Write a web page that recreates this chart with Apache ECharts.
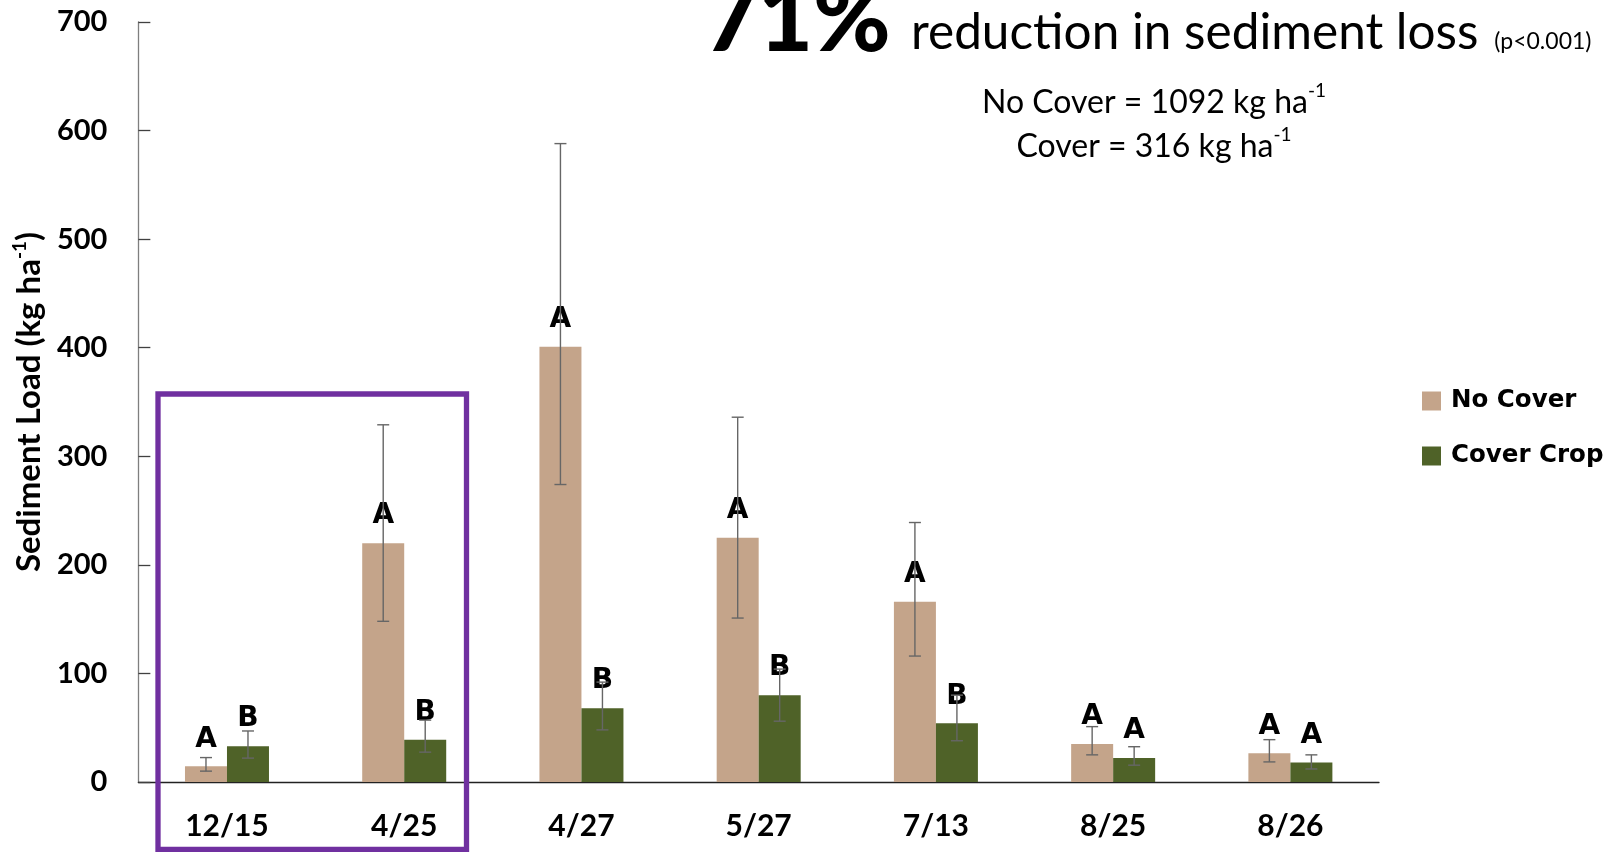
<!DOCTYPE html>
<html>
<head>
<meta charset="utf-8">
<script src="https://cdn.jsdelivr.net/npm/echarts@6/dist/echarts.min.js"></script>
<style>
  html, body { margin: 0; padding: 0; background: #ffffff; }
  #chart { width: 1620px; height: 852px; }
</style>
</head>
<body>
<div id="chart"></div>
<script>
// Storm event dates
const categories = ['12/15', '4/25', '4/27', '5/27', '7/13', '8/25', '8/26'];

// Sediment load per event (kg ha-1) and error bar bounds
const noCover     = [14.5, 220, 401, 225, 166, 35, 26.5];
const noCoverLow  = [10, 148, 274, 151, 116, 25, 18.5];
const noCoverHigh = [22.5, 329, 588, 336, 239, 51, 39];

const coverCrop     = [33, 39, 68, 80, 54, 22, 18];
const coverCropLow  = [22, 27.5, 48, 56, 38, 15.5, 12];
const coverCropHigh = [47, 57, 92, 104, 80, 32.5, 25];

// Mean separation letters
const noCoverLetters   = ['A', 'A', 'A', 'A', 'A', 'A', 'A'];
const coverCropLetters = ['B', 'B', 'B', 'B', 'B', 'A', 'A'];

// Y axis ticks
const yMin = 0, yMax = 700, yStep = 100;

const TAN = '#C4A48A';
const GREEN = '#4F6228';
const BAR_W = 42;

function errorSeries(name, low, high, offset) {
  return {
    type: 'custom',
    name: name + ' error',
    z: 3,
    silent: true,
    data: categories.map((c, i) => [i, low[i], high[i]]),
    encode: { x: 0, y: [1, 2] },
    renderItem: function (params, api) {
      const lo = api.coord([api.value(0), api.value(1)]);
      const hi = api.coord([api.value(0), api.value(2)]);
      const x = lo[0] + offset;
      const cap = 6;
      const style = { stroke: '#666666', lineWidth: 1.4 };
      return {
        type: 'group',
        children: [
          { type: 'line', shape: { x1: x, y1: lo[1], x2: x, y2: hi[1] }, style: style },
          { type: 'line', shape: { x1: x - cap, y1: lo[1], x2: x + cap, y2: lo[1] }, style: style },
          { type: 'line', shape: { x1: x - cap, y1: hi[1], x2: x + cap, y2: hi[1] }, style: style }
        ]
      };
    }
  };
}

function letterLabel(letters) {
  return {
    show: true,
    position: 'top',
    distance: 13,
    fontFamily: 'DejaVu Sans',
    fontWeight: 'bold',
    fontSize: 28,
    color: '#000000',
    formatter: p => letters[p.dataIndex]
  };
}

const chart = echarts.init(document.getElementById('chart'), null, { renderer: 'canvas' });

chart.setOption({
  animation: false,
  backgroundColor: '#ffffff',
  grid: { left: 134, right: 241, top: 22, bottom: 70, containLabel: false },
  legend: {
    orient: 'vertical',
    left: 1417,
    top: 381,
    itemWidth: 19,
    itemHeight: 19,
    itemGap: 25,
    icon: 'rect',
    textStyle: {
      fontFamily: 'DejaVu Sans',
      fontWeight: 'bold',
      fontSize: 24.5,
      lineHeight: 30,
      color: '#000000',
      padding: [0, 0, 0, 5]
    },
    data: ['No Cover', 'Cover Crop']
  },
  xAxis: {
    type: 'category',
    data: categories,
    axisLine: { lineStyle: { color: '#222222', width: 1.3 } },
    axisTick: { show: false },
    axisLabel: {
      margin: 29,
      fontFamily: 'Lato',
      fontWeight: 'bold',
      fontSize: 30,
      lineHeight: 30,
      color: '#000000'
    },
    splitLine: { show: false }
  },
  yAxis: {
    type: 'value',
    min: yMin,
    max: yMax,
    interval: yStep,
    name: '{n|Sediment Load (kg ha}{s|-1}{n|)}',
    nameLocation: 'middle',
    nameRotate: 90,
    nameGap: 88,
    nameTextStyle: {
      rich: {
        n: { fontFamily: 'Lato', fontWeight: 'bold', fontSize: 33, lineHeight: 38, color: '#000000', verticalAlign: 'bottom' },
        s: { fontFamily: 'Lato', fontWeight: 'bold', fontSize: 19, lineHeight: 38, color: '#000000', verticalAlign: 'top', padding: [2, 0, 0, 0] }
      }
    },
    axisLine: { show: true, lineStyle: { color: '#7f7f7f', width: 1.3 } },
    axisTick: { show: true, inside: true, length: 12, lineStyle: { color: '#404040', width: 1.3 } },
    axisLabel: {
      margin: 31,
      fontFamily: 'Lato',
      fontWeight: 'bold',
      fontSize: 29,
      color: '#000000'
    },
    splitLine: { show: false }
  },
  series: [
    {
      name: 'No Cover',
      type: 'bar',
      data: noCover,
      barWidth: BAR_W,
      barGap: '0%',
      itemStyle: { color: TAN },
      label: letterLabel(noCoverLetters),
      z: 2
    },
    {
      name: 'Cover Crop',
      type: 'bar',
      data: coverCrop,
      barWidth: BAR_W,
      barGap: '0%',
      itemStyle: { color: GREEN },
      label: letterLabel(coverCropLetters),
      z: 2
    },
    errorSeries('No Cover', noCoverLow, noCoverHigh, -BAR_W / 2),
    errorSeries('Cover Crop', coverCropLow, coverCropHigh, BAR_W / 2)
  ],
  graphic: [
    {
      type: 'text',
      left: 704,
      top: -26,
      style: {
        text: '71%',
        fontFamily: 'Lato',
        fontWeight: 900,
        fontSize: 94,
        fill: '#000000'
      }
    },
    {
      type: 'text',
      left: 911,
      top: 8,
      style: {
        text: '{a|reduction in sediment loss}{b| (p<0.001)}',
        rich: {
          a: { fontFamily: 'Lato', fontSize: 49.5, lineHeight: 54, fill: '#000000', verticalAlign: 'bottom' },
          b: { fontFamily: 'Lato', fontSize: 23, lineHeight: 54, fill: '#000000', verticalAlign: 'bottom', padding: [0, 0, 5, 10] }
        }
      }
    },
    {
      type: 'text',
      x: 1154,
      y: 100,
      style: {
        text: '{a|No Cover = 1092 kg ha}{s|-1}',
        align: 'center',
        verticalAlign: 'middle',
        rich: {
          a: { fontFamily: 'Lato', fontSize: 32, lineHeight: 38, fill: '#000000', verticalAlign: 'bottom' },
          s: { fontFamily: 'Lato', fontSize: 19, lineHeight: 38, fill: '#000000', verticalAlign: 'top' }
        }
      }
    },
    {
      type: 'text',
      x: 1154,
      y: 144,
      style: {
        text: '{a|Cover = 316 kg ha}{s|-1}',
        align: 'center',
        verticalAlign: 'middle',
        rich: {
          a: { fontFamily: 'Lato', fontSize: 32, lineHeight: 38, fill: '#000000', verticalAlign: 'bottom' },
          s: { fontFamily: 'Lato', fontSize: 19, lineHeight: 38, fill: '#000000', verticalAlign: 'top' }
        }
      }
    },
    {
      // highlight frame around the winter/early spring events
      type: 'rect',
      z: 10,
      shape: { x: 158, y: 394, width: 308.5, height: 455.5 },
      style: { fill: 'none', stroke: '#7030A0', lineWidth: 5.3 }
    }
  ]
});
</script>
</body>
</html>
